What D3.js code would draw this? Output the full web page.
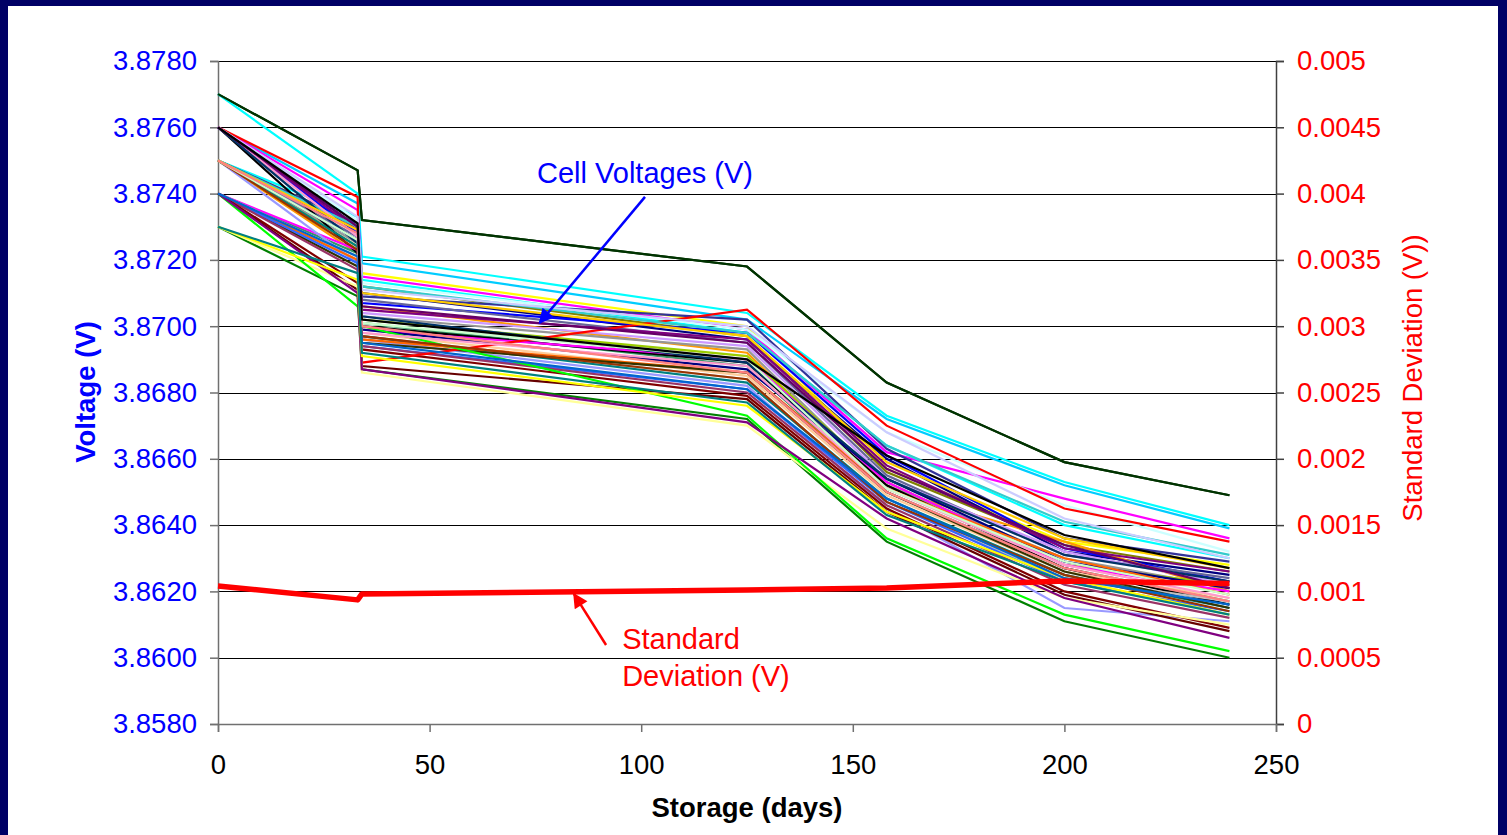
<!DOCTYPE html>
<html>
<head>
<meta charset="utf-8">
<script src="https://cdn.jsdelivr.net/npm/d3@7"></script>
<style>
  html, body { margin: 0; padding: 0; background: #000066; }
  svg { display: block; }
  text { font-family: "Liberation Sans", Arial, sans-serif; }
</style>
</head>
<body>
<svg id="chart" width="1507" height="835"></svg>
<script>
// ---------------- DATA ----------------
const days = [0, 33, 34, 125, 158, 200, 239];

const cellColors = [
  "#003300", "#00FFFF", "#00CCFF", "#FFFF00", "#FF00FF", "#00FFFF", "#CCFFFF", "#808000",
  "#000080", "#333399", "#0000FF", "#666699", "#FF9900", "#800080", "#CC99FF", "#969696",
  "#99CC00", "#339966", "#000000", "#FF00FF", "#000080", "#FFCC99", "#C0C0C0", "#008080",
  "#9999FF", "#FF6600", "#333300", "#3366FF", "#993366", "#800000", "#FF0000", "#660000",
  "#008000", "#FFFF99", "#00FF00", "#800080", "#FFFF00", "#33CCCC", "#FF99CC", "#993300",
  "#003366", "#CCFFCC", "#FFCC00", "#0066CC", "#CCCCFF", "#FF8080", "#660066", "#000000",
  "#008080"
];

const cellVoltages = [
  [3.8770, 3.8747, 3.8732, 3.8718, 3.8683, 3.8659, 3.8649],
  [3.8770, 3.8740, 3.8721, 3.8704, 3.8673, 3.8653, 3.8640],
  [3.8760, 3.8737, 3.8719, 3.8702, 3.8672, 3.8652, 3.8639],
  [3.8750, 3.8731, 3.8716, 3.8700, 3.8657, 3.8635, 3.8628],
  [3.8760, 3.8735, 3.8715, 3.8699, 3.8662, 3.8648, 3.8636],
  [3.8750, 3.8733, 3.8714, 3.8698, 3.8664, 3.8640, 3.8630],
  [3.8760, 3.8732, 3.8713, 3.8699, 3.8668, 3.8646, 3.8632],
  [3.8750, 3.8729, 3.8712, 3.8697, 3.8656, 3.8634, 3.8626],
  [3.8760, 3.8730, 3.8710, 3.8696, 3.8660, 3.8632, 3.8625],
  [3.8750, 3.8731, 3.8709, 3.8702, 3.8663, 3.8636, 3.8629],
  [3.8760, 3.8728, 3.8707, 3.8698, 3.8661, 3.8633, 3.8623],
  [3.8750, 3.8727, 3.8708, 3.8695, 3.8655, 3.8631, 3.8624],
  [3.8750, 3.8722, 3.8706, 3.8692, 3.8651, 3.8635, 3.8620],
  [3.8760, 3.8729, 3.8705, 3.8696, 3.8658, 3.8633, 3.8626],
  [3.8750, 3.8726, 3.8704, 3.8694, 3.8654, 3.8632, 3.8622],
  [3.8750, 3.8725, 3.8703, 3.8693, 3.8652, 3.8630, 3.8621],
  [3.8750, 3.8724, 3.8702, 3.8691, 3.8653, 3.8628, 3.8622],
  [3.8740, 3.8722, 3.8701, 3.8688, 3.8650, 3.8627, 3.8617],
  [3.8760, 3.8722, 3.8700, 3.8689, 3.8652, 3.8627, 3.8616],
  [3.8740, 3.8723, 3.8699, 3.8690, 3.8653, 3.8628, 3.8620],
  [3.8750, 3.8726, 3.8699, 3.8687, 3.8654, 3.8629, 3.8621],
  [3.8740, 3.8721, 3.8698, 3.8685, 3.8649, 3.8626, 3.8618],
  [3.8740, 3.8720, 3.8697, 3.8684, 3.8647, 3.8624, 3.8617],
  [3.8750, 3.8724, 3.8697, 3.8683, 3.8648, 3.8625, 3.8615],
  [3.8750, 3.8719, 3.8696, 3.8682, 3.8645, 3.8615, 3.8611],
  [3.8740, 3.8720, 3.8696, 3.8686, 3.8651, 3.8630, 3.8619],
  [3.8740, 3.8718, 3.8695, 3.8686, 3.8650, 3.8626, 3.8615],
  [3.8740, 3.8719, 3.8694, 3.8681, 3.8647, 3.8623, 3.8614],
  [3.8740, 3.8717, 3.8694, 3.8680, 3.8646, 3.8622, 3.8612],
  [3.8740, 3.8713, 3.8693, 3.8679, 3.8645, 3.8620, 3.8609],
  [3.8760, 3.8739, 3.8689, 3.8705, 3.8670, 3.8645, 3.8635],
  [3.8740, 3.8711, 3.8688, 3.8678, 3.8644, 3.8619, 3.8608],
  [3.8730, 3.8709, 3.8687, 3.8672, 3.8635, 3.8611, 3.8600],
  [3.8730, 3.8712, 3.8686, 3.8670, 3.8639, 3.8618, 3.8610],
  [3.8740, 3.8706, 3.8700, 3.8673, 3.8636, 3.8613, 3.8602],
  [3.8740, 3.8710, 3.8687, 3.8671, 3.8642, 3.8618, 3.8606],
  [3.8730, 3.8714, 3.8691, 3.8676, 3.8644, 3.8624, 3.8613],
  [3.8750, 3.8730, 3.8712, 3.8698, 3.8664, 3.8641, 3.8631],
  [3.8760, 3.8727, 3.8698, 3.8688, 3.8651, 3.8628, 3.8618],
  [3.8750, 3.8723, 3.8697, 3.8684, 3.8647, 3.8625, 3.8614],
  [3.8760, 3.8725, 3.8703, 3.8689, 3.8654, 3.8631, 3.8623],
  [3.8750, 3.8726, 3.8701, 3.8690, 3.8651, 3.8629, 3.8619],
  [3.8750, 3.8729, 3.8710, 3.8697, 3.8659, 3.8636, 3.8627],
  [3.8740, 3.8721, 3.8695, 3.8681, 3.8648, 3.8624, 3.8616],
  [3.8760, 3.8733, 3.8711, 3.8700, 3.8668, 3.8642, 3.8630],
  [3.8750, 3.8728, 3.8700, 3.8686, 3.8650, 3.8627, 3.8617],
  [3.8760, 3.8730, 3.8706, 3.8695, 3.8657, 3.8634, 3.8621],
  [3.8760, 3.8731, 3.8702, 3.8690, 3.8661, 3.8637, 3.8627],
  [3.8730, 3.8716, 3.8692, 3.8677, 3.8643, 3.8623, 3.8613]
];

const stdDev = [0.001041, 0.000936, 0.000981, 0.001011, 0.001026, 0.001079, 0.001060];

const xTicks = [0, 50, 100, 150, 200, 250];
const yLeftTicks = [3.858, 3.860, 3.862, 3.864, 3.866, 3.868, 3.870, 3.872, 3.874, 3.876, 3.878];
const yRightTicks = [0, 0.0005, 0.001, 0.0015, 0.002, 0.0025, 0.003, 0.0035, 0.004, 0.0045, 0.005];
const yRightLabels = ["0", "0.0005", "0.001", "0.0015", "0.002", "0.0025", "0.003", "0.0035", "0.004", "0.0045", "0.005"];

// ---------------- CHART ----------------
const svg = d3.select("#chart");
const W = 1507, H = 835;
const plot = { left: 218, right: 1276, top: 61, bottom: 724 };
const FONT = "'Liberation Sans', Arial, sans-serif";

svg.append("rect").attr("x", 0).attr("y", 0).attr("width", W).attr("height", H).attr("fill", "#000066");
svg.append("rect").attr("x", 8).attr("y", 6).attr("width", 1490).attr("height", 829).attr("fill", "#FFFFFF");

const x = d3.scaleLinear().domain([0, 250]).range([plot.left, plot.right]);
const yL = d3.scaleLinear().domain([3.858, 3.878]).range([plot.bottom, plot.top]);
const yR = d3.scaleLinear().domain([0, 0.005]).range([plot.bottom, plot.top]);

// gridlines
svg.append("g")
  .attr("transform", `translate(${plot.left},0)`)
  .call(d3.axisLeft(yL).tickValues(yLeftTicks).tickSize(-(plot.right - plot.left)).tickFormat(""))
  .call(g => g.select(".domain").remove())
  .call(g => g.selectAll("line").attr("stroke", "#000").attr("stroke-width", 1).attr("shape-rendering", "crispEdges"));

// left axis
svg.append("g")
  .attr("transform", `translate(${plot.left},0)`)
  .call(d3.axisLeft(yL).tickValues(yLeftTicks).tickSize(8).tickPadding(13).tickFormat(d3.format(".4f")))
  .call(g => g.select(".domain").attr("stroke", "#707070").attr("stroke-width", 1.5))
  .call(g => g.selectAll(".tick line").attr("stroke", "#707070").attr("stroke-width", 1.5))
  .call(g => g.selectAll("text").attr("fill", "#0000FF").attr("font-size", 27.5).attr("font-family", FONT));

// right axis
svg.append("g")
  .attr("transform", `translate(${plot.right},0)`)
  .call(d3.axisRight(yR).tickValues(yRightTicks).tickSize(8).tickPadding(13)
    .tickFormat((d, i) => yRightLabels[i]))
  .call(g => g.select(".domain").attr("stroke", "#404040").attr("stroke-width", 1.5))
  .call(g => g.selectAll(".tick line").attr("stroke", "#404040").attr("stroke-width", 1.5))
  .call(g => g.selectAll("text").attr("fill", "#FF0000").attr("font-size", 27.5).attr("font-family", FONT));

// bottom axis
svg.append("g")
  .attr("transform", `translate(0,${plot.bottom})`)
  .call(d3.axisBottom(x).tickValues(xTicks).tickSize(8).tickPadding(22).tickFormat(d3.format("d")))
  .call(g => g.select(".domain").attr("stroke", "#707070").attr("stroke-width", 1.5))
  .call(g => g.selectAll(".tick line").attr("stroke", "#707070").attr("stroke-width", 1.5))
  .call(g => g.selectAll("text").attr("fill", "#000").attr("font-size", 27.5).attr("font-family", FONT));

// cell lines
const lineL = d3.line().x((d, i) => x(days[i])).y(d => yL(d));
svg.append("g").selectAll("path.cell")
  .data(cellVoltages)
  .join("path")
  .attr("class", "cell")
  .attr("d", d => lineL(d))
  .attr("fill", "none")
  .attr("stroke", (d, i) => cellColors[i % cellColors.length])
  .attr("stroke-width", 2.2)
  .attr("stroke-linejoin", "miter");

// redraw top dark-green line on top
svg.append("path")
  .attr("d", lineL(cellVoltages[0]))
  .attr("fill", "none").attr("stroke", cellColors[0]).attr("stroke-width", 2.2);

// std dev line
const lineR = d3.line().x((d, i) => x(days[i])).y(d => yR(d));
svg.append("path")
  .attr("d", lineR(stdDev))
  .attr("fill", "none")
  .attr("stroke", "#FF0000")
  .attr("stroke-width", 5.5)
  .attr("stroke-linejoin", "round");

// arrow markers
const defs = svg.append("defs");
function marker(id, color) {
  defs.append("marker")
    .attr("id", id).attr("viewBox", "0 0 10 10")
    .attr("refX", 9).attr("refY", 5)
    .attr("markerWidth", 7).attr("markerHeight", 6)
    .attr("markerUnits", "strokeWidth")
    .attr("orient", "auto")
    .append("path").attr("d", "M0,0 L10,5 L0,10 Z").attr("fill", color);
}
marker("arrBlue", "#0000FF");
marker("arrRed", "#FF0000");

// annotations (anchored in data coordinates)
svg.append("line")
  .attr("x1", x(100.9)).attr("y1", yL(3.8739))
  .attr("x2", x(76.0)).attr("y2", yL(3.8701))
  .attr("stroke", "#0000FF").attr("stroke-width", 2.5)
  .attr("marker-end", "url(#arrBlue)");
svg.append("text")
  .attr("x", x(100.9)).attr("y", yL(3.87462))
  .attr("text-anchor", "middle").attr("dominant-baseline", "central")
  .attr("fill", "#0000FF").attr("font-size", 29)
  .text("Cell Voltages (V)");

svg.append("line")
  .attr("x1", x(91.7)).attr("y1", yR(0.000596))
  .attr("x2", x(84.1)).attr("y2", yR(0.000981))
  .attr("stroke", "#FF0000").attr("stroke-width", 2.5)
  .attr("marker-end", "url(#arrRed)");
const sdText = svg.append("text")
  .attr("fill", "#FF0000").attr("font-size", 29);
sdText.append("tspan").attr("x", x(95.5)).attr("y", yR(0.000641)).attr("dominant-baseline", "central").text("Standard");
sdText.append("tspan").attr("x", x(95.5)).attr("y", yR(0.000362)).attr("dominant-baseline", "central").text("Deviation (V)");

// axis titles
svg.append("text")
  .attr("transform", "translate(747,807)")
  .attr("text-anchor", "middle").attr("dominant-baseline", "central")
  .attr("font-weight", "bold").attr("font-size", 27.5).attr("fill", "#000")
  .text("Storage (days)");

svg.append("text")
  .attr("transform", "translate(85,392) rotate(-90)")
  .attr("text-anchor", "middle").attr("dominant-baseline", "central")
  .attr("font-weight", "bold").attr("font-size", 27.5).attr("fill", "#0000FF")
  .text("Voltage (V)");

svg.append("text")
  .attr("transform", "translate(1412,378) rotate(-90)")
  .attr("text-anchor", "middle").attr("dominant-baseline", "central")
  .attr("font-size", 27.5).attr("fill", "#FF0000")
  .text("Standard Deviation (V))");
</script>
</body>
</html>
